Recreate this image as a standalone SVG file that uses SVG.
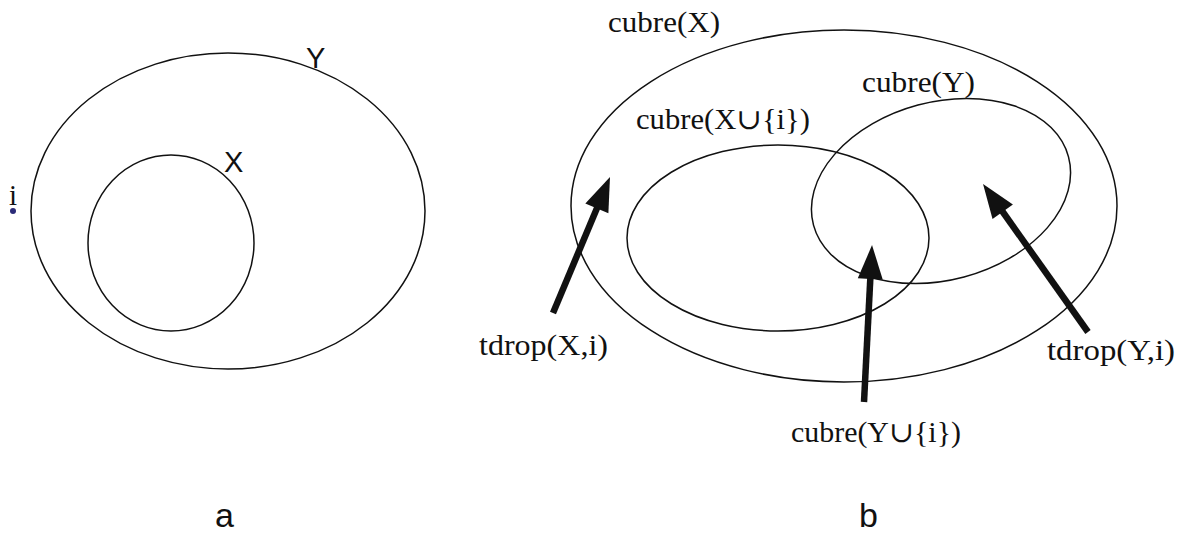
<svg xmlns="http://www.w3.org/2000/svg" width="1185" height="536" viewBox="0 0 1185 536">
<style>
.set{fill:none;stroke:#111;stroke-width:1.5}
.sans{font-family:"Liberation Sans",Arial,sans-serif;fill:#111}
.serif{font-family:"Liberation Serif","DejaVu Serif",serif;font-size:29px;fill:#111}
.arrow{stroke:#111;stroke-width:6.5;fill:none;marker-end:url(#head)}
</style>
<defs>
<marker id="head" markerUnits="userSpaceOnUse" orient="auto" refX="4" refY="0" markerWidth="40" markerHeight="30" viewBox="0 -15 40 30" overflow="visible">
<path d="M0,-12.5 L34,0 L0,12.5 Z" fill="#111"/>
</marker>
</defs>
<rect width="1185" height="536" fill="#fff"/>
<g id="panel-a">
<g id="Y"><ellipse class="set" cx="228" cy="211" rx="197" ry="158"/><text class="sans" x="306" y="68" font-size="29">Y</text></g>
<g id="X"><ellipse class="set" cx="171" cy="243" rx="83" ry="88"/><text class="sans" x="224" y="172" font-size="29">X</text></g>
<g id="i"><text class="serif" x="9" y="205" font-size="24">i</text><circle cx="13" cy="211" r="3" fill="#2b2b78"/></g>
<text class="sans" x="215" y="527" font-size="34">a</text>
</g>
<g id="panel-b">
<g id="cubreX"><ellipse class="set" cx="844" cy="206" rx="273" ry="176"/><text class="serif" x="608" y="32" textLength="112" lengthAdjust="spacingAndGlyphs">cubre(X)</text></g>
<g id="cubreXi"><ellipse class="set" cx="778" cy="238" rx="151" ry="93"/><text class="serif" x="636" y="129" textLength="174" lengthAdjust="spacingAndGlyphs">cubre(X∪{i})</text></g>
<g id="cubreY"><ellipse class="set" cx="941" cy="191" rx="132" ry="89" transform="rotate(-15 941 191)"/><text class="serif" x="862" y="92" textLength="113" lengthAdjust="spacingAndGlyphs">cubre(Y)</text></g>
<g id="tdropX"><text class="serif" x="479" y="355" textLength="129" lengthAdjust="spacingAndGlyphs">tdrop(X,i)</text></g>
<g id="cubreYi"><text class="serif" x="791" y="442" textLength="170" lengthAdjust="spacingAndGlyphs">cubre(Y∪{i})</text></g>
<g id="tdropY"><text class="serif" x="1047" y="360" textLength="128" lengthAdjust="spacingAndGlyphs">tdrop(Y,i)</text></g>
<text class="sans" x="859" y="527" font-size="34">b</text>
</g>
<g id="connectors">
<line class="arrow" x1="553" y1="313" x2="598.4" y2="204.7"/>
<line class="arrow" x1="864" y1="402" x2="870.5" y2="275"/>
<line class="arrow" x1="1088" y1="332" x2="1000.4" y2="208.5"/>
</g>
</svg>
